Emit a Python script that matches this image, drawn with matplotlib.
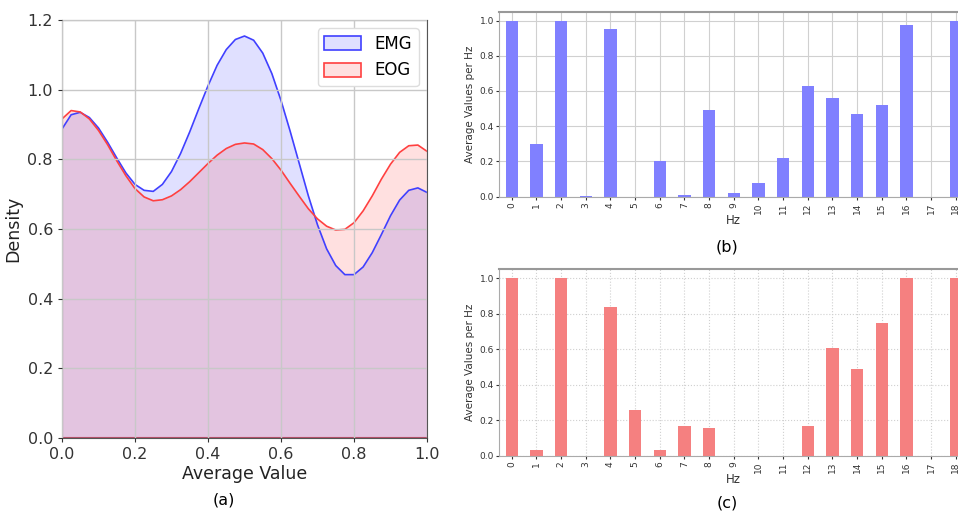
import matplotlib
matplotlib.use("Agg")
import matplotlib.pyplot as plt
import numpy as np

# ---- data ----
avg_value = [0.000, 0.025, 0.050, 0.075, 0.100, 0.125, 0.150, 0.175, 0.200, 0.225,
             0.250, 0.275, 0.300, 0.325, 0.350, 0.375, 0.400, 0.425, 0.450, 0.475,
             0.500, 0.525, 0.550, 0.575, 0.600, 0.625, 0.650, 0.675, 0.700, 0.725,
             0.750, 0.775, 0.800, 0.825, 0.850, 0.875, 0.900, 0.925, 0.950, 0.975, 1.000]
emg_density = [0.887, 0.928, 0.935, 0.920, 0.890, 0.849, 0.804, 0.761, 0.728, 0.711,
               0.708, 0.728, 0.765, 0.817, 0.879, 0.946, 1.011, 1.070, 1.115, 1.144,
               1.154, 1.142, 1.105, 1.046, 0.969, 0.881, 0.788, 0.695, 0.612, 0.543,
               0.495, 0.469, 0.469, 0.491, 0.532, 0.584, 0.638, 0.683, 0.711, 0.718, 0.705]
eog_density = [0.916, 0.940, 0.936, 0.916, 0.883, 0.842, 0.796, 0.753, 0.716, 0.692,
               0.681, 0.684, 0.695, 0.713, 0.736, 0.762, 0.788, 0.812, 0.831, 0.843,
               0.847, 0.844, 0.828, 0.802, 0.769, 0.731, 0.694, 0.658, 0.629, 0.608,
               0.597, 0.599, 0.618, 0.652, 0.695, 0.743, 0.786, 0.820, 0.839, 0.841, 0.823]

hz = list(range(19))
hz_labels = [str(h) for h in hz]
emg_avg = [1.0, 0.30, 1.0, 0.005, 0.95, 0.0, 0.20, 0.01, 0.49, 0.02,
           0.08, 0.22, 0.63, 0.56, 0.47, 0.52, 0.975, 0.0, 1.0]
eog_avg = [1.0, 0.03, 1.0, 0.0, 0.835, 0.255, 0.03, 0.165, 0.155, 0.0,
           0.0, 0.0, 0.165, 0.605, 0.49, 0.75, 1.0, 0.0, 1.0]

W, H = 958, 512
fig = plt.figure(figsize=(W / 100, H / 100), dpi=100)
fig.patch.set_facecolor("white")


def rect(l, t, r, b):
    return [l / W, 1 - b / H, (r - l) / W, (b - t) / H]


# ---- panel (a) ----
ax = fig.add_axes(rect(62, 20, 427, 438))
ax.fill_between(avg_value, emg_density, 0, color="blue", alpha=0.12, lw=0)
ax.fill_between(avg_value, eog_density, 0, color="red", alpha=0.12, lw=0)
ax.plot(avg_value, emg_density, color="#4040ff", lw=1.2)
ax.plot(avg_value, eog_density, color="#ff4040", lw=1.2)
ax.axhline(0, color="#b03050", lw=1.5)
ax.set_xlim(0, 1)
ax.set_ylim(0, 1.2)
ax.set_xticks(np.arange(0, 1.01, 0.2))
ax.set_yticks(np.arange(0, 1.21, 0.2))
ax.grid(True, color="#c8c8c8", lw=1)
ax.set_axisbelow(False)
for line in ax.get_xgridlines() + ax.get_ygridlines():
    line.set_zorder(0.5)
ax.tick_params(labelsize=11.5, colors="#333333", length=3)
ax.set_xlabel("Average Value", fontsize=12.5, color="#222222", labelpad=2)
ax.set_ylabel("Density", fontsize=12.5, color="#222222")
for s in ax.spines.values():
    s.set_color("#555555")
from matplotlib.patches import Patch
handles = [Patch(facecolor=(0, 0, 1, 0.12), edgecolor="#4040ff", lw=1.2, label="EMG"),
           Patch(facecolor=(1, 0, 0, 0.12), edgecolor="#ff4040", lw=1.2, label="EOG")]
ax.legend(handles=handles, loc="upper right", fontsize=12, handlelength=2.2,
          handleheight=0.9, frameon=True, framealpha=1, edgecolor="#dddddd")
fig.text(224 / W, 1 - 500 / H, "(a)", ha="center", va="center", fontsize=11.5)


# ---- panels (b) and (c) ----
def bar_panel(top, bottom, values, color, linestyle, label_y, letter_y, letter):
    bx = fig.add_axes(rect(499.4, top, 968.0, bottom))
    bx.bar(hz, values, width=0.5, color=color, zorder=2)
    bx.set_xlim(-0.5, 18.5)
    bx.set_ylim(0, 1.05)
    bx.set_xticks(hz)
    bx.set_xticklabels(hz_labels, rotation=90)
    bx.set_yticks(np.arange(0, 1.01, 0.2))
    bx.set_yticklabels([f"{v:.1f}" for v in np.arange(0, 1.01, 0.2)])
    bx.grid(True, color="#d0d0d0", lw=0.8, ls=linestyle, zorder=0)
    bx.set_axisbelow(True)
    bx.tick_params(labelsize=6.5, length=2, colors="#333333", pad=2)
    bx.set_ylabel("Average Values per Hz", fontsize=7.5, color="#333333", labelpad=3)
    bx.set_xlabel("Hz", fontsize=8.5, color="#333333", labelpad=0)
    for s in bx.spines.values():
        s.set_color("#aaaaaa")
        s.set_linewidth(0.8)
    bx.spines["top"].set_color("#999999")
    bx.spines["top"].set_linewidth(1.5)
    fig.text(727 / W, 1 - letter_y / H, letter, ha="center", va="center", fontsize=11.5)
    return bx


bar_panel(11.7, 196.7, emg_avg, "#8080ff", "-", 218, 247, "(b)")
bar_panel(269.3, 455.7, eog_avg, "#f58080", ":", 478, 503, "(c)")

fig.savefig("out.png", dpi=100)
